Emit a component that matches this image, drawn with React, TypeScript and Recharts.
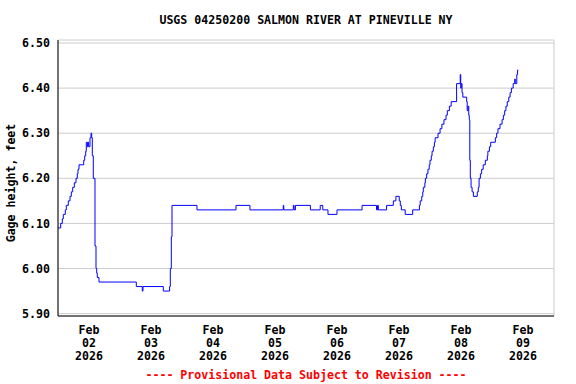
import React from "react";
import {
  LineChart,
  Line,
  XAxis,
  YAxis,
  CartesianGrid,
} from "recharts";

// hours since Feb 02 2026 00:00
const hours = [
  0, 1.05, 1.66, 2.05, 2.83, 3.21, 3.99, 4.65, 5.15, 5.69, 6.31, 6.97, 7.47,
  7.74, 8.13, 9.95, 10.34, 10.72, 10.95, 11.34, 11.6, 11.88, 12.39, 12.77,
  13.05, 13.28, 13.66, 14.32, 14.71, 14.98, 15.21, 15.87, 30.31, 32.63, 32.9,
  40.76, 43.2, 43.47, 43.86, 44.13, 53.8, 68.9, 74.3, 87.2, 87.4, 91.1, 91.4,
  91.9, 97.7, 101.5, 102.5, 104.5, 108.0, 117.7, 123.3, 123.7, 124.0, 127.2,
  129.8, 130.8, 132.1, 132.5, 132.9, 134.4, 137.3, 139.9, 140.2, 140.8, 141.2,
  141.4, 142.0, 142.2, 142.7, 143.2, 143.7, 144.0, 144.5, 144.8, 145.3, 145.7,
  146.0, 147.1, 147.9, 148.6, 149.4, 150.2, 150.7, 151.5, 152.2, 154.3, 155.7,
  155.9, 156.1, 156.4, 156.7, 158.2, 158.4, 158.7, 159.0, 159.2, 159.4, 159.6,
  159.9, 160.3, 160.8, 162.3, 162.7, 163.0, 163.5, 164.0, 164.6, 165.4, 166.2,
  166.4, 167.0, 167.5, 169.3, 169.8, 170.3, 171.1, 171.9, 172.4, 172.9, 173.4,
  173.9, 174.5, 175.0, 175.5, 176.2, 176.8, 177.0, 177.6, 177.9, 178.2,
];

const gageHeight = [
  6.09, 6.1, 6.11, 6.12, 6.13, 6.14, 6.15, 6.16, 6.17, 6.18, 6.19, 6.2, 6.21,
  6.22, 6.23, 6.24, 6.25, 6.26, 6.28, 6.27, 6.28, 6.27, 6.29, 6.3, 6.29, 6.25,
  6.2, 6.05, 6.0, 5.99, 5.98, 5.97, 5.96, 5.95, 5.96, 5.95, 5.96, 6.0, 6.07,
  6.14, 6.13, 6.14, 6.13, 6.14, 6.13, 6.14, 6.13, 6.14, 6.13, 6.14, 6.13, 6.12,
  6.13, 6.14, 6.13, 6.14, 6.13, 6.14, 6.15, 6.16, 6.15, 6.14, 6.13, 6.12, 6.13,
  6.14, 6.15, 6.16, 6.17, 6.18, 6.19, 6.2, 6.21, 6.22, 6.23, 6.24, 6.25, 6.26,
  6.27, 6.28, 6.29, 6.3, 6.31, 6.32, 6.33, 6.34, 6.35, 6.36, 6.37, 6.41, 6.43,
  6.4, 6.41, 6.39, 6.38, 6.37, 6.35, 6.36, 6.34, 6.33, 6.24, 6.2, 6.18, 6.17,
  6.16, 6.17, 6.18, 6.2, 6.21, 6.22, 6.23, 6.24, 6.25, 6.26, 6.27, 6.28, 6.29,
  6.3, 6.31, 6.32, 6.33, 6.34, 6.35, 6.36, 6.37, 6.38, 6.39, 6.4, 6.41, 6.42,
  6.41, 6.43, 6.44, 6.44,
];

const gridHours = [0, 24, 48, 72, 96, 120, 144, 168, 192];
const dayTicks = [12, 36, 60, 84, 108, 132, 156, 180];
const dayLabels = ["02", "03", "04", "05", "06", "07", "08", "09"];
const monthLabel = "Feb";
const yearLabel = "2026";
const gageTicks = [5.9, 6.0, 6.1, 6.2, 6.3, 6.4, 6.5];

const chartData = hours.map((h, i) => ({ hour: h, gage: gageHeight[i] }));

const FONT = "'DejaVu Sans Mono', monospace";

const DayTick = (props: any) => {
  const { x, y, payload } = props;
  const idx = dayTicks.indexOf(payload.value);
  return (
    <text
      x={x}
      y={y}
      textAnchor="middle"
      fontFamily={FONT}
      fontWeight="bold"
      fontSize={11.6}
      fill="#000"
    >
      <tspan x={x} dy={10}>{monthLabel}</tspan>
      <tspan x={x} dy={13}>{dayLabels[idx]}</tspan>
      <tspan x={x} dy={13}>{yearLabel}</tspan>
    </text>
  );
};

const App: React.FC = () => {
  return (
    <div
      style={{
        position: "absolute",
        left: 0,
        top: 0,
        width: 576,
        height: 384,
        background: "#fff",
        fontFamily: FONT,
        fontWeight: "bold",
      }}
    >
      <div
        style={{
          position: "absolute",
          left: 0,
          width: 612,
          top: 12,
          textAlign: "center",
          fontSize: 11.6,
          lineHeight: "16px",
        }}
      >
        USGS 04250200 SALMON RIVER AT PINEVILLE NY
      </div>
      <LineChart
        width={576}
        height={384}
        data={chartData}
        margin={{ top: 40, right: 22, bottom: 0, left: 0 }}
      >
        <CartesianGrid xAxisId="grid" yAxisId="left" stroke="#cccccc" />
        <XAxis
          xAxisId="grid"
          orientation="top"
          type="number"
          dataKey="hour"
          domain={[0, 192]}
          ticks={gridHours}
          height={0}
          tick={false}
          tickLine={false}
          axisLine={{ stroke: "#000" }}
          allowDataOverflow
        />
        <XAxis
          xAxisId="days"
          orientation="bottom"
          type="number"
          dataKey="hour"
          domain={[0, 192]}
          ticks={dayTicks}
          height={68}
          tick={<DayTick />}
          tickLine={false}
          axisLine={{ stroke: "#000" }}
          interval={0}
          allowDataOverflow
        />
        <YAxis
          yAxisId="left"
          type="number"
          domain={[5.8947, 6.5067]}
          ticks={gageTicks}
          tickFormatter={(v: number) => v.toFixed(2)}
          width={58}
          tickLine={false}
          axisLine={{ stroke: "#000" }}
          tick={{
            fill: "#000",
            fontFamily: FONT,
            fontWeight: "bold",
            fontSize: 11.6,
          }}
          interval={0}
          allowDataOverflow
        />
        <YAxis
          yAxisId="right"
          orientation="right"
          type="number"
          domain={[5.8947, 6.5067]}
          width={0}
          tick={false}
          tickLine={false}
          axisLine={{ stroke: "#000" }}
          allowDataOverflow
        />
        <Line
          xAxisId="days"
          yAxisId="left"
          type="stepAfter"
          dataKey="gage"
          stroke="#0000ff"
          strokeWidth={1}
          dot={false}
          isAnimationActive={false}
        />
      </LineChart>
      <div
        style={{
          position: "absolute",
          left: 11,
          top: 183,
          transform: "translate(-50%, -50%) rotate(-90deg)",
          whiteSpace: "nowrap",
          fontSize: 11.6,
          lineHeight: "14px",
        }}
      >
        Gage height, feet
      </div>
      <div
        style={{
          position: "absolute",
          left: 0,
          width: 612,
          top: 367,
          textAlign: "center",
          fontSize: 11.6,
          lineHeight: "16px",
          color: "#ff0000",
        }}
      >
        ---- Provisional Data Subject to Revision ----
      </div>
    </div>
  );
};

export default App;
